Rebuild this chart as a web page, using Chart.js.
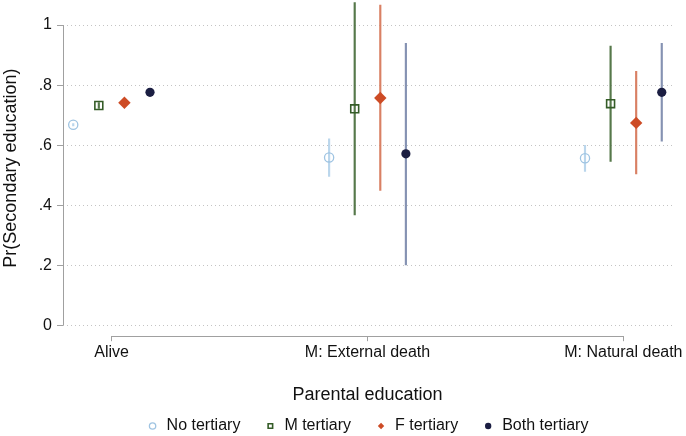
<!DOCTYPE html>
<html>
<head>
<meta charset="utf-8">
<script src="https://cdn.jsdelivr.net/npm/chart.js@4/dist/chart.umd.min.js"></script>
<style>
  html, body { margin: 0; padding: 0; background: #fff; }
  #chart { display: block; }
</style>
</head>
<body>
<canvas id="chart" width="686" height="436"></canvas>
<script>
// Categories and series
const groups = ['Alive', 'M: External death', 'M: Natural death'];
const seriesNames = ['No tertiary', 'M tertiary', 'F tertiary', 'Both tertiary'];

// Point estimates
const noTertiary = [0.668, 0.559, 0.556];
const mTertiary = [0.732, 0.721, 0.738];
const fTertiary = [0.741, 0.757, 0.674];
const bothTertiary = [0.776, 0.571, 0.776];

// Confidence intervals (lower / upper)
const noTertiaryLo = [0.664, 0.496, 0.512];
const noTertiaryHi = [0.672, 0.621, 0.599];
const mTertiaryLo = [0.722, 0.367, 0.546];
const mTertiaryHi = [0.742, 1.075, 0.930];
const fTertiaryLo = [0.731, 0.449, 0.504];
const fTertiaryHi = [0.751, 1.067, 0.846];
const bothTertiaryLo = [0.766, 0.201, 0.613];
const bothTertiaryHi = [0.786, 0.939, 0.939];

// Axis ticks
const yTicks = [0, 0.2, 0.4, 0.6, 0.8, 1];
const yTickLabels = ['0', '.2', '.4', '.6', '.8', '1'];

const FONT = "'Liberation Sans', Arial, Helvetica, sans-serif";
const TEXT = '#111';
const AXIS = '#a0a0a0';

// series look: marker, marker colour, CI colour
const styles = [
    { pointStyle: 'circle', radius: 4.6, color: '#9fc4e2', fill: 'rgba(0,0,0,0)', bar: '#bad6ec', width: 1.3 },
    { pointStyle: 'rect', radius: 5.6, color: '#345c27', fill: 'rgba(0,0,0,0)', bar: '#56784a', width: 1.6 },
    { pointStyle: 'rectRot', radius: 6.2, color: '#cd4b25', fill: '#cd4b25', bar: '#d98064', width: 0 },
    { pointStyle: 'circle', radius: 4.6, color: '#1b1e42', fill: '#1b1e42', bar: '#8592b2', width: 0 }
];
const offsets = [-0.15, -0.05, 0.05, 0.15];

const est = [noTertiary, mTertiary, fTertiary, bothTertiary];
const lo = [noTertiaryLo, mTertiaryLo, fTertiaryLo, bothTertiaryLo];
const hi = [noTertiaryHi, mTertiaryHi, fTertiaryHi, bothTertiaryHi];

const datasets = [];
seriesNames.forEach((name, s) => {
    const st = styles[s];
    datasets.push({
        type: 'scatter',
        label: name,
        data: est[s].map((v, i) => ({ x: i + offsets[s], y: v })),
        pointStyle: st.pointStyle,
        pointRadius: st.radius,
        pointHoverRadius: st.radius,
        borderColor: st.color,
        backgroundColor: st.fill,
        borderWidth: st.width,
        order: 1
    });
});
seriesNames.forEach((name, s) => {
    datasets.push({
        type: 'bar',
        label: name + ' CI',
        data: lo[s].map((l, i) => ({ x: i + offsets[s], y: [l, hi[s][i]] })),
        backgroundColor: styles[s].bar,
        borderWidth: 0,
        barThickness: 1.5,
        grouped: false,
        order: 2
    });
});

// axis lines only span the tick range (Stata style)
const axisLines = {
    id: 'axisLines',
    afterDatasetsDraw(chart) {
        const { ctx, chartArea, scales: { x, y } } = chart;
        ctx.save();
        ctx.strokeStyle = AXIS;
        ctx.lineWidth = 1;
        ctx.beginPath();
        const ax = Math.round(chartArea.left) + 0.5;
        ctx.moveTo(ax, y.getPixelForValue(yTicks[yTicks.length - 1]));
        ctx.lineTo(ax, y.getPixelForValue(yTicks[0]));
        const by = Math.round(chartArea.bottom) + 0.5;
        ctx.moveTo(x.getPixelForValue(0), by);
        ctx.lineTo(x.getPixelForValue(groups.length - 1), by);
        ctx.stroke();
        ctx.restore();
    }
};

new Chart(document.getElementById('chart'), {
    type: 'scatter',
    data: { datasets },
    plugins: [axisLines],
    options: {
        responsive: false,
        animation: false,
        layout: { autoPadding: false, padding: { top: 0, left: 0, right: 14, bottom: 0 } },
        plugins: {
            tooltip: { enabled: false },
            legend: {
                position: 'bottom',
                fullSize: false,
                maxHeight: 42,
                labels: {
                    usePointStyle: true,
                    boxWidth: 12,
                    boxHeight: 4.5,
                    padding: 24,
                    color: TEXT,
                    font: { family: FONT, size: 16 },
                    filter: item => item.datasetIndex < seriesNames.length
                }
            }
        },
        scales: {
            x: {
                type: 'linear',
                min: -0.19,
                max: 2.19,
                offset: false,
                border: { display: false },
                grid: { display: true, drawOnChartArea: false, offset: false, tickLength: 5, tickColor: AXIS },
                afterBuildTicks: scale => { scale.ticks = groups.map((g, i) => ({ value: i })); },
                afterFit: scale => { scale.paddingLeft = 0; scale.paddingRight = 0; },
                ticks: {
                    autoSkip: false,
                    maxRotation: 0,
                    padding: 2,
                    color: TEXT,
                    font: { family: FONT, size: 16 },
                    callback: v => groups[v]
                },
                title: {
                    display: true,
                    text: 'Parental education',
                    color: TEXT,
                    font: { family: FONT, size: 18 },
                    padding: { top: 20, bottom: -12 }
                }
            },
            y: {
                min: -0.0368,
                max: 1.0836,
                border: { display: false, dash: [1, 3] },
                grid: { color: '#c4c4c4', tickLength: 6, tickColor: AXIS, tickBorderDash: [] },
                afterBuildTicks: scale => { scale.ticks = yTicks.map(v => ({ value: v })); },
                afterFit: scale => { scale.width = 63; scale.paddingTop = 0; scale.paddingBottom = 0; },
                ticks: {
                    padding: 5,
                    color: TEXT,
                    font: { family: FONT, size: 16 },
                    callback: v => yTickLabels[yTicks.indexOf(v)]
                },
                title: {
                    display: true,
                    text: 'Pr(Secondary education)',
                    color: TEXT,
                    font: { family: FONT, size: 18 },
                    padding: 0
                }
            }
        }
    }
});
</script>
</body>
</html>
